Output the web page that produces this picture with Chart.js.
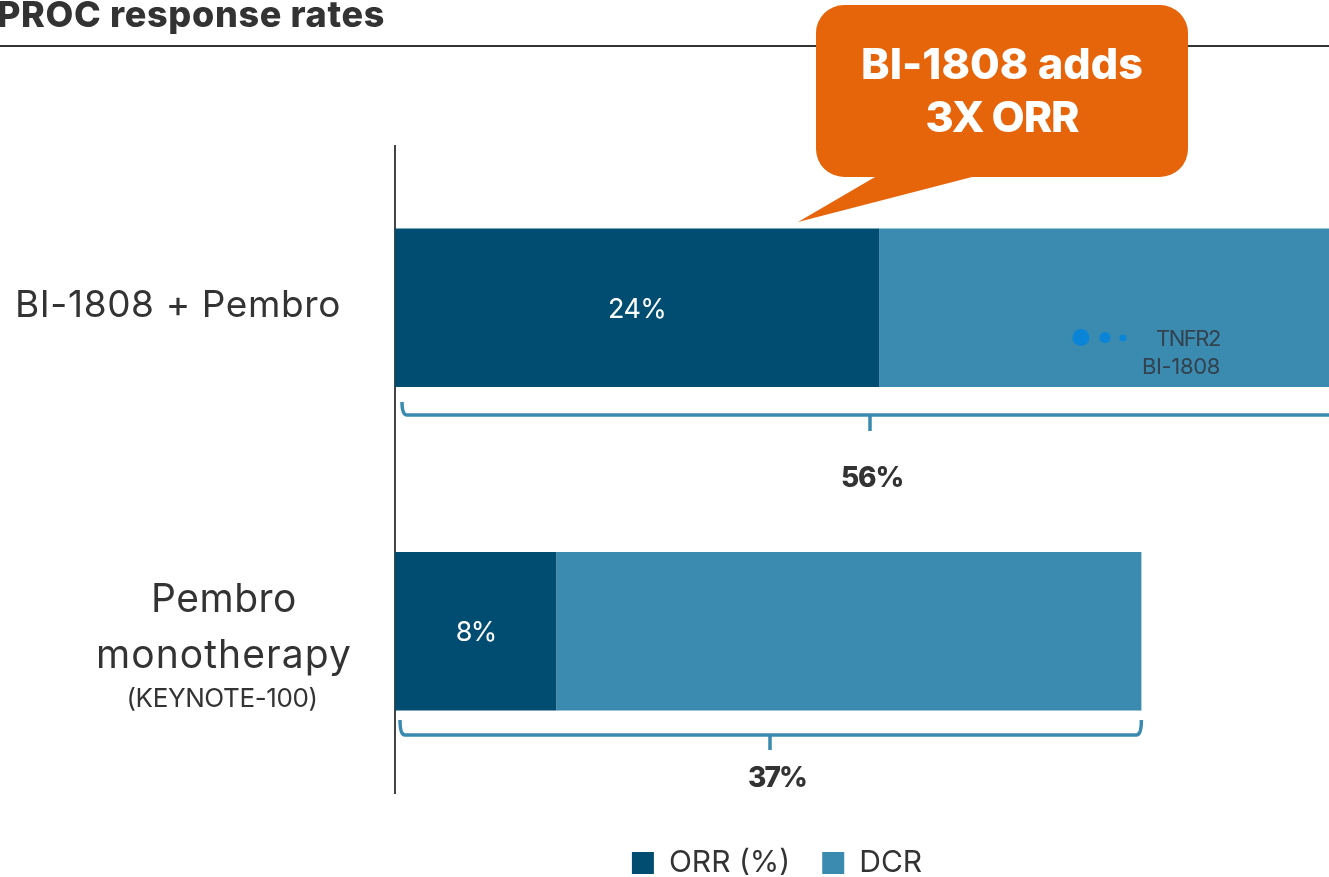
<!DOCTYPE html>
<html><head><meta charset="utf-8">
<style>html,body{margin:0;padding:0;background:#fff;overflow:hidden}canvas{display:block}</style>
<script src="https://cdn.jsdelivr.net/npm/chart.js@4"></script>
</head><body><canvas id="c" width="1329" height="877"></canvas>
<script>
const categories = ['BI-1808 + Pembro', 'Pembro monotherapy'];
const orrValues = [24, 8];
const dcrValues = [32, 29];
const totalLabels = ['56%', '37%'];
const orrLabels = ['24%', '8%'];
const seriesNames = ['ORR (%)', 'DCR'];
const titleText = 'PROC response rates';
const calloutLines = ['BI-1808 adds', '3X ORR'];
const subLabel = '(KEYNOTE-100)';
const watermark = ['TNFR2', 'BI-1808'];

const FONT = 'Inter, "Noto Sans", sans-serif';
const INK = '#333333', DARK = '#014D72', LIGHT = '#3B8AB0', ORANGE = '#E7650A';

function put(ctx, text, x, y, size, weight, color, width, align) {
  ctx.save();
  ctx.font = weight + ' ' + size + 'px ' + FONT;
  ctx.fillStyle = color;
  ctx.textBaseline = 'alphabetic';
  ctx.textAlign = 'left';
  ctx.letterSpacing = '0px';
  const m = ctx.measureText(text).width;
  const sp = width ? (width - m) / text.length : 0;
  ctx.letterSpacing = sp + 'px';
  const w = width || m;
  const left = align === 'center' ? x - w / 2 : align === 'right' ? x - w : x;
  ctx.fillText(text, left, y);
  ctx.restore();
}
function bracket(ctx, l, r, mid, top, y, tip) {
  ctx.save();
  ctx.strokeStyle = LIGHT; ctx.lineWidth = 3.5; ctx.lineCap = 'butt'; ctx.lineJoin = 'round';
  ctx.beginPath();
  ctx.moveTo(l, top);
  ctx.quadraticCurveTo(l, y, l + 5, y);
  ctx.lineTo(r - 5, y);
  ctx.quadraticCurveTo(r, y, r, top);
  ctx.moveTo(mid, y);
  ctx.lineTo(mid, tip);
  ctx.stroke();
  ctx.restore();
}
const overlay = {
  id: 'overlay',
  afterLayout(chart) {
    const lg = chart.legend;
    lg.left -= 85; lg.right -= 85;
    lg.top = 816; lg.bottom = 877;
  },
  afterDraw(chart) {
    const ctx = chart.ctx, x = chart.scales.x, y = chart.scales.y;
    const y0 = y.getPixelForValue(0), y1 = y.getPixelForValue(1);

    // title + rule
    put(ctx, titleText, 385, 27, 36, 800, INK, 388, 'right');
    ctx.fillStyle = INK; ctx.fillRect(0, 45, 1329, 2);

    // category labels
    put(ctx, categories[0], 178, y0 + 9, 37, 400, INK, 326, 'center');
    const words = categories[1].split(' ');
    put(ctx, words[0], 224, y1 - 19, 39, 400, INK, 146, 'center');
    put(ctx, words[1], 224, y1 + 37, 39, 400, INK, 256, 'center');
    put(ctx, subLabel, 222, y1 + 76, 26, 400, INK, 191, 'center');

    // values on the ORR bars
    const pos = [y0, y1];
    orrValues.forEach((v, i) => {
      put(ctx, orrLabels[i], x.getPixelForValue(v / 2), pos[i] + 10, 27, 400, '#fff', i ? 40 : 58, 'center');
    });

    // watermark on the bar
    ctx.fillStyle = '#0A84D6';
    [[1081, 337.5, 8.5], [1105, 337.5, 5.5], [1123, 338, 3.5]].forEach(d => {
      ctx.beginPath(); ctx.arc(d[0], d[1], d[2], 0, Math.PI * 2); ctx.fill();
    });
    put(ctx, watermark[0], 1220, 346, 22, 400, '#33424F', 64, 'right');
    put(ctx, watermark[1], 1220, 374, 22, 400, '#33424F', 78, 'right');

    // brackets
    bracket(ctx, 402, 1345, 870, 402, 415, 431);
    put(ctx, totalLabels[0], 872, 487, 28, 800, INK, 62, 'center');
    bracket(ctx, 400, x.getPixelForValue(orrValues[1] + dcrValues[1]), 770, 720, 735, 750);
    put(ctx, totalLabels[1], 777, 787, 28, 800, INK, 58, 'center');

    // callout
    ctx.fillStyle = ORANGE;
    ctx.beginPath();
    ctx.moveTo(844, 5);
    ctx.lineTo(1160, 5);
    ctx.arcTo(1188, 5, 1188, 33, 28);
    ctx.lineTo(1188, 149);
    ctx.arcTo(1188, 177, 1160, 177, 28);
    ctx.lineTo(972, 177);
    ctx.lineTo(798, 222);
    ctx.lineTo(875, 177);
    ctx.lineTo(844, 177);
    ctx.arcTo(816, 177, 816, 149, 28);
    ctx.lineTo(816, 33);
    ctx.arcTo(816, 5, 844, 5, 28);
    ctx.closePath();
    ctx.fill();
    put(ctx, calloutLines[0], 1002, 79, 43, 800, '#fff', 282, 'center');
    put(ctx, calloutLines[1], 1002, 132, 43, 800, '#fff', 153, 'center');
  }
};
new Chart(document.getElementById('c'), {
  type: 'bar',
  data: {
    labels: categories,
    datasets: [
      { label: seriesNames[0], data: orrValues, backgroundColor: DARK },
      { label: seriesNames[1], data: dcrValues, backgroundColor: LIGHT }
    ]
  },
  options: {
    indexAxis: 'y',
    responsive: false,
    animation: false,
    layout: { padding: { left: 395, top: 146, right: 0, bottom: 12 } },
    datasets: { bar: { barPercentage: 0.49, categoryPercentage: 1 } },
    scales: {
      x: { stacked: true, display: false, min: 0, max: 46.3 },
      y: {
        stacked: true,
        grid: { display: false, drawTicks: false },
        border: { display: true, color: '#444', width: 2 },
        ticks: { display: false },
        afterFit(s) { s.width = 0; }
      }
    },
    plugins: {
      tooltip: { enabled: false },
      legend: {
        position: 'bottom',
        labels: {
          boxWidth: 22, boxHeight: 22, padding: 32, color: INK,
          font: { family: FONT, size: 30, weight: '400' }
        }
      }
    }
  },
  plugins: [overlay]
});
</script></body></html>
